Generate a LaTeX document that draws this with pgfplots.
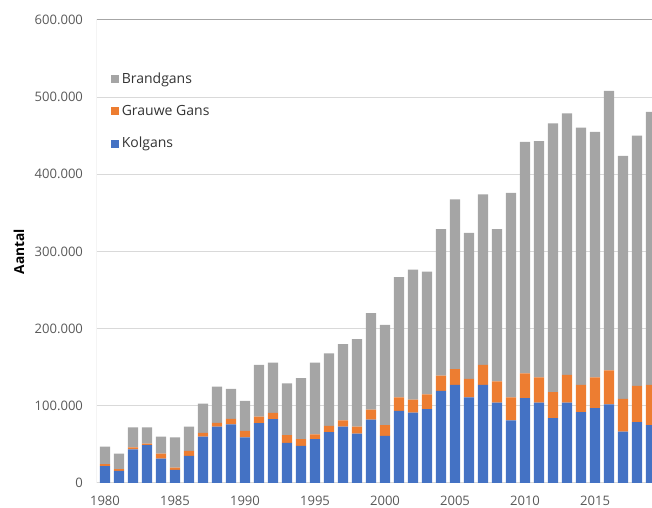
\documentclass[border=0pt]{standalone}
\usepackage{fontspec}
\setmainfont{Open Sans}
\usepackage{pgfplots}
\usepackage{pgfplotstable}
\pgfplotsset{compat=1.18}

\definecolor{kol}{HTML}{4472C4}
\definecolor{grauw}{HTML}{ED7D31}
\definecolor{brand}{HTML}{A5A5A5}
\definecolor{ticktext}{HTML}{595959}
\definecolor{gridc}{HTML}{D9D9D9}
\definecolor{framec}{HTML}{A6A6A6}

% jaar, kolgans, grauwe gans, brandgans
\pgfplotstableread{
jaar kol grauw brand
1980 22000 2500 22500
1981 15600 2400 20000
1982 43700 2300 26000
1983 49000 2000 21000
1984 31600 6400 22000
1985 17000 3000 39000
1986 35000 6600 31400
1987 60000 5000 38000
1988 73000 5000 47000
1989 76000 7000 39000
1990 59000 8500 39000
1991 77500 8500 67000
1992 82700 8300 65000
1993 52000 10000 67000
1994 48000 8700 79300
1995 56700 6300 93000
1996 66000 8000 94000
1997 73000 8000 99000
1998 64000 9000 113600
1999 82000 13000 125000
2000 61000 14000 130000
2001 93500 17500 155700
2002 91300 16700 168600
2003 95700 19300 159000
2004 119500 19500 190000
2005 127000 20600 219900
2006 110800 24200 189000
2007 127000 26000 221000
2008 104000 27600 197400
2009 81000 30000 265000
2010 110000 32000 300000
2011 104000 33000 306000
2012 84000 33700 348300
2013 104000 36000 339000
2014 91800 35200 333600
2015 97000 39800 318200
2016 102000 44000 362000
2017 66700 42300 315000
2018 78800 47200 324000
2019 75000 52000 354000
}\ganzen

\begin{document}
\begin{tikzpicture}
\begin{axis}[
  name=ax,
  scale only axis,
  width=416.25pt, height=347.25pt,
  ybar stacked,
  bar width=0.72,
  xmin=1979.43, xmax=2019.07,
  ymin=0, ymax=600000,
  ytick={0,100000,...,600000},
  xtick={1980,1985,...,2015},
  scaled y ticks=false,
  /pgf/number format/.cd, fixed, 1000 sep={.}, assume math mode=true,
  /pgfplots/.cd,
  x tick label style={/pgf/number format/1000 sep={}, font=\fontsize{9.8}{12}\selectfont, text=ticktext, yshift=-6pt},
  y tick label style={font=\fontsize{9.8}{12}\selectfont, text=ticktext, xshift=-7pt},
  major tick length=0pt,
  ymajorgrids,
  major grid style={gridc, line width=0.75pt},
  axis line style={draw=none},
  ylabel={\bfseries Aantal},
  every axis y label/.style={at={(axis description cs:-0.1405,0.5)}, rotate=90, anchor=center, font=\fontsize{10.3}{12}\selectfont},
  legend reversed,
  legend style={at={(axis description cs:0.025,0.893)}, anchor=north west, draw=none, fill=none,
    font=\fontsize{10.5}{12}\selectfont, text=black!80, row sep=11pt, inner sep=0pt},
  legend cell align=left,
  legend image code/.code={\fill[#1] (0pt,-3pt) rectangle (6pt,3pt);},
]
\addplot[fill=kol, draw=none] table[x=jaar, y=kol] {\ganzen};
\addlegendentry{Kolgans}
\addplot[fill=grauw, draw=none] table[x=jaar, y=grauw] {\ganzen};
\addlegendentry{Grauwe Gans}
\addplot[fill=brand, draw=none] table[x=jaar, y=brand] {\ganzen};
\addlegendentry{Brandgans}
\draw[framec, line width=0.75pt] (axis description cs:0,0) -- (axis description cs:0,1) -- (axis description cs:1,1);
\end{axis}
\pgfresetboundingbox
\path[use as bounding box] ([xshift=-72.75pt, yshift=-18.75pt]ax.south west) rectangle ([yshift=15pt]ax.north east);
\end{tikzpicture}
\end{document}
